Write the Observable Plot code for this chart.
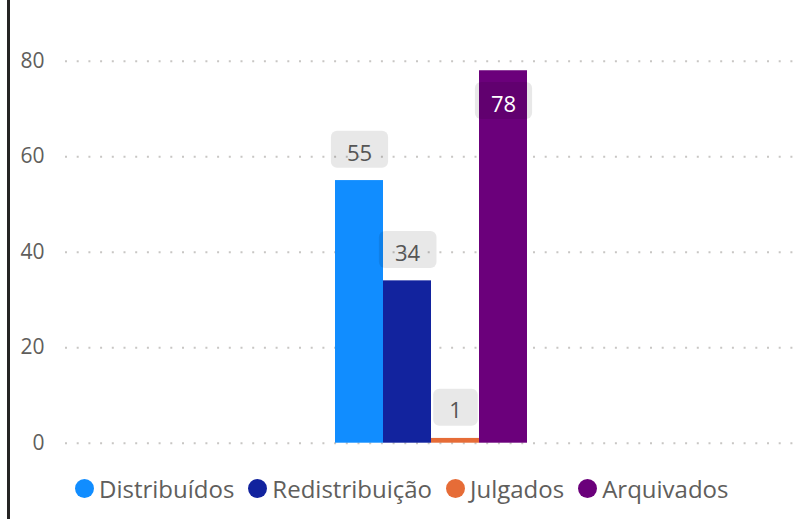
<!DOCTYPE html>
<html><head><meta charset="utf-8">
<script src="https://cdn.jsdelivr.net/npm/d3@7"></script>
<script src="https://cdn.jsdelivr.net/npm/@observablehq/plot@0.6"></script>
<style>
html,body{margin:0;padding:0;background:#fff;}
body{width:795px;height:519px;overflow:hidden;position:relative;font-family:"Open Sans",sans-serif;}
#edge{position:absolute;left:7px;top:0;width:3px;height:519px;background:#252423;}
#legend{display:flex;align-items:center;height:44px;padding-left:75px;font-size:24px;color:#605E5C;white-space:nowrap;}
.item{display:flex;align-items:center;margin-right:14px;}
.sw{width:19px;height:19px;border-radius:50%;margin-right:5px;flex:none;}
</style></head><body>
<div id="chart"></div><div id="legend"></div><div id="edge"></div>
<script>
const categories = ["Distribuídos", "Redistribuição", "Julgados", "Arquivados"];
const values = [55, 34, 1, 78];
const colors = ["#118DFF", "#12239E", "#E66C37", "#6B007B"];
const yTicks = [0, 20, 40, 60, 80];

const data = categories.map((c, i) => ({category: c, value: values[i]}));
const W = 795, H = 466, mT = 41.6, mB = 23.3, mL = 65;
const yMax = 84;
const BOX_H = 37, GAP = 12;
const yScale = Plot.scale({y: {domain: [0, yMax], range: [H - mB, mT]}});
data.forEach(d => { d.inside = yScale.apply(d.value) - GAP - BOX_H < mT; });

const plot = Plot.plot({
  width: W, height: H, marginTop: mT, marginBottom: mB, marginLeft: mL, marginRight: 0,
  style: {fontFamily: '"Open Sans", sans-serif', fontSize: "21px", color: "#605E5C", background: "transparent", overflow: "visible"},
  x: {domain: categories, range: [334, 527], padding: 0, axis: null},
  y: {domain: [0, yMax], ticks: yTicks, tickSize: 0, tickPadding: 21, label: null, tickFormat: d => String(d)},
  color: {domain: categories, range: colors},
  marks: [
    Plot.ruleY(yTicks, {stroke: "#c8c6c4", strokeWidth: 2, strokeDasharray: "2 9.7"}),
    Plot.barY(data, {x: "category", y: "value", fill: "category"}),
    Plot.text(data.filter(d => !d.inside), {x: "category", y: "value", text: d => String(d.value), dy: -27, fill: "#555", fontSize: 22}),
    Plot.text(data.filter(d => d.inside), {x: "category", y: "value", text: d => String(d.value), dy: 34, fill: "#fff", fontSize: 22})
  ]
});
document.getElementById("chart").append(plot);

// label background boxes (drawn over bars, under text)
const svgRect = plot.getBoundingClientRect();
const textGroups = plot.querySelectorAll('g[aria-label="text"]');
const ns = "http://www.w3.org/2000/svg";
const boxG = document.createElementNS(ns, "g");
textGroups.forEach(g => {
  g.querySelectorAll("text").forEach(t => {
    const r = t.getBoundingClientRect();
    const cx = r.left + r.width / 2 - svgRect.left;
    const cy = r.top + r.height / 2 - svgRect.top - 2.3;
    const w = r.width + 32;
    const rect = document.createElementNS(ns, "rect");
    rect.setAttribute("x", cx - w / 2);
    rect.setAttribute("y", cy - BOX_H / 2);
    rect.setAttribute("width", w);
    rect.setAttribute("height", BOX_H);
    rect.setAttribute("rx", 6);
    rect.setAttribute("fill", "#000");
    rect.setAttribute("fill-opacity", 0.09);
    boxG.appendChild(rect);
  });
});
if (textGroups.length) textGroups[0].parentNode.insertBefore(boxG, textGroups[0]);

// legend
const legend = document.getElementById("legend");
categories.forEach((c, i) => {
  const it = document.createElement("div");
  it.className = "item";
  const sw = document.createElement("span");
  sw.className = "sw";
  sw.style.background = colors[i];
  const tx = document.createElement("span");
  tx.textContent = c;
  it.append(sw, tx);
  legend.append(it);
});
</script>
</body></html>
